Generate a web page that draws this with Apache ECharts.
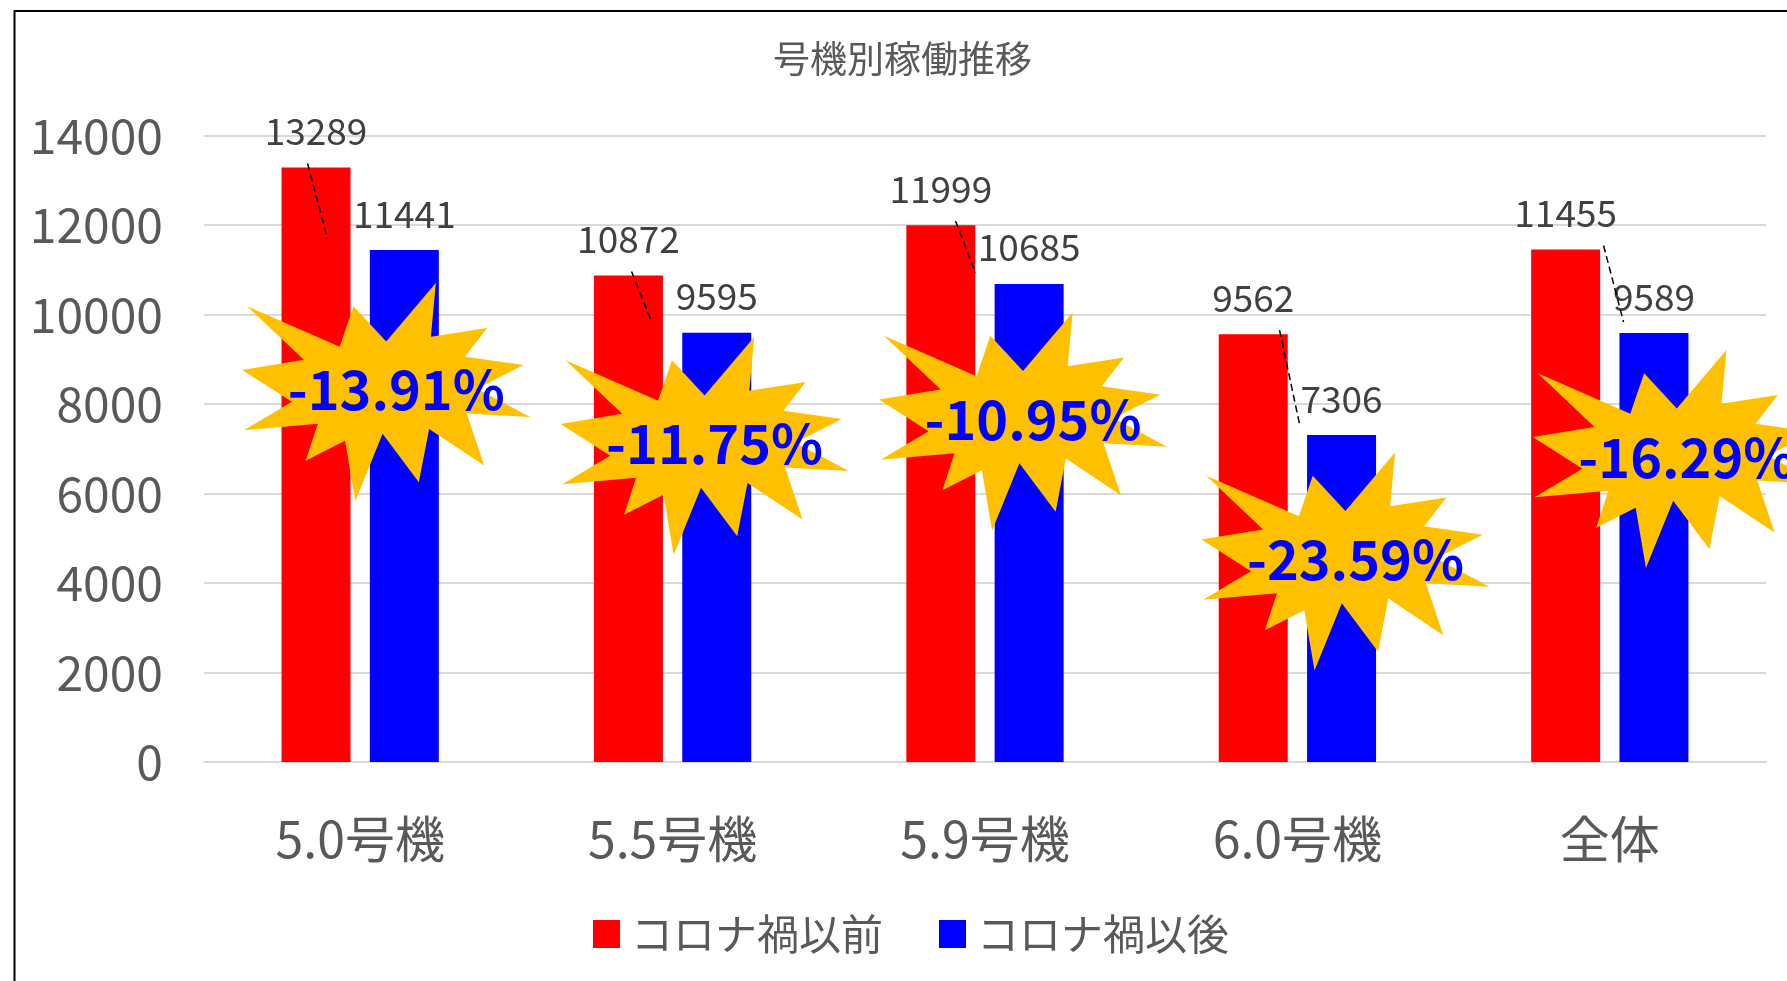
<!DOCTYPE html>
<html>
<head>
<meta charset="utf-8">
<script src="https://cdn.jsdelivr.net/npm/echarts@6/dist/echarts.min.js"></script>
<style>
html,body{margin:0;padding:0;background:#fff;}
#chart{width:1787px;height:981px;}
</style>
</head>
<body>
<div id="chart"></div>
<script>
// ---------- data ----------
const title = '号機別稼働推移';
const categories = ['5.0号機', '5.5号機', '5.9号機', '6.0号機', '全体'];
const seriesNames = ['コロナ禍以前', 'コロナ禍以後'];
const beforeValues = [13289, 10872, 11999, 9562, 11455];
const afterValues = [11441, 9595, 10685, 7306, 9589];
const changeLabels = ['-13.91%', '-11.75%', '-10.95%', '-23.59%', '-16.29%'];
const yAxisMin = 0;
const yAxisMax = 14000;
const yAxisInterval = 2000;

// ---------- annotation layout (burst centre on the value axis, px shift from category centre) ----------
const burstValue = [8270, 7063, 7610, 4481, 6772];
const burstShift = [26, 32, 38, 48, 67];

// ---------- style ----------
const FONT = '"Noto Sans CJK JP", "Noto Sans", sans-serif';
const BAR_W = 69;
const BAR_GAP_PX = 19.3;
const BURST_W = 288, BURST_H = 218;
// Excel "Explosion 1" (irregularSeal1) outline on a 21600 grid
const SEAL = [[10800,5800],[14522,0],[14155,5325],[18380,4457],[16702,7315],[21097,8137],[17607,10475],[21600,13290],[16837,12942],[18145,18095],[14020,14457],[13247,19737],[10532,14935],[8485,21600],[7715,15627],[4762,17617],[5667,13937],[135,14587],[3722,11775],[0,8615],[4627,7617],[370,2295],[7312,6320],[8352,2295]];

const chart = echarts.init(document.getElementById('chart'), null, {renderer: 'canvas'});

const burstData = categories.map((c, i) => [i, burstValue[i], beforeValues[i], afterValues[i]]);

function renderAnnot(params, api) {
  const i = api.value(0);
  const centre = api.coord([i, api.value(1)]);
  const cx = centre[0] + burstShift[i];
  const cy = centre[1];
  const pts = SEAL.map(p => [cx - BURST_W / 2 + p[0] / 21600 * BURST_W, cy - BURST_H / 2 + p[1] / 21600 * BURST_H]);
  // leader line (dashed) between red and blue bars
  const catC = api.coord([i, 0])[0];
  const redC = catC - (BAR_W + BAR_GAP_PX) / 2;
  const redTop = api.coord([i, api.value(2)])[1];
  const blueTop = api.coord([i, api.value(3)])[1];
  const sx = redC - 8.5 + 11.6 * i;
  return {
    type: 'group',
    children: [
      {
        type: 'line',
        shape: {x1: sx, y1: redTop - 4, x2: sx + 20, y2: blueTop - 11},
        style: {stroke: '#000', lineWidth: 1.5, lineDash: [7, 4]},
        z2: 1
      },
      {
        type: 'polygon',
        shape: {points: pts},
        style: {fill: '#FFC000'},
        z2: 5
      },
      {
        type: 'text',
        x: cx + 10,
        y: cy - 2,
        style: {
          text: changeLabels[i],
          font: 'bold 54px ' + FONT,
          fill: '#0000FF',
          align: 'center',
          verticalAlign: 'middle'
        },
        z2: 6
      }
    ]
  };
}

const option = {
  animation: false,
  backgroundColor: '#ffffff',
  title: {
    text: title,
    left: 768,
    top: 34,
    textStyle: {fontFamily: FONT, fontSize: 37, fontWeight: 'normal', color: '#595959', lineHeight: 40}
  },
  legend: {
    data: seriesNames,
    left: 588,
    top: 906,
    itemWidth: 27,
    itemHeight: 28,
    itemGap: 56,
    icon: 'rect',
    textStyle: {fontFamily: FONT, fontSize: 42, color: '#595959', lineHeight: 46, padding: [0, 0, 0, 6]}
  },
  grid: {left: 204, right: 21, top: 135.6, bottom: 219, containLabel: false},
  xAxis: {
    type: 'category',
    data: categories,
    axisLine: {show: true, lineStyle: {color: '#d9d9d9', width: 2}},
    axisTick: {show: false},
    axisLabel: {fontFamily: FONT, fontSize: 50, color: '#595959', margin: 52, lineHeight: 50}
  },
  yAxis: {
    type: 'value',
    min: yAxisMin,
    max: yAxisMax,
    interval: yAxisInterval,
    axisLine: {show: false},
    axisTick: {show: false},
    splitLine: {lineStyle: {color: '#d9d9d9', width: 2}},
    axisLabel: {fontFamily: FONT, fontSize: 48, color: '#595959', margin: 41, formatter: v => String(v)}
  },
  graphic: [{
    type: 'rect',
    left: 12, top: 8.5,
    shape: {width: 1900, height: 1100},
    style: {fill: 'none', stroke: '#000', lineWidth: 2},
    silent: true,
    z: 100
  }],
  series: [
    {
      name: seriesNames[0],
      type: 'bar',
      data: beforeValues,
      barWidth: BAR_W,
      barGap: (BAR_GAP_PX / BAR_W * 100) + '%',
      itemStyle: {color: '#FF0000'},
      label: {show: true, position: 'top', distance: 18, fontFamily: FONT, fontSize: 37, color: '#404040', lineHeight: 37}
    },
    {
      name: seriesNames[1],
      type: 'bar',
      data: afterValues,
      barWidth: BAR_W,
      itemStyle: {color: '#0000FF'},
      label: {show: true, position: 'top', distance: 18, fontFamily: FONT, fontSize: 37, color: '#404040', lineHeight: 37}
    },
    {
      name: 'annotations',
      type: 'custom',
      data: burstData,
      renderItem: renderAnnot,
      clip: false,
      z: 10,
      silent: true,
      encode: {x: 0, y: 1}
    }
  ]
};
chart.setOption(option);
</script>
</body>
</html>
